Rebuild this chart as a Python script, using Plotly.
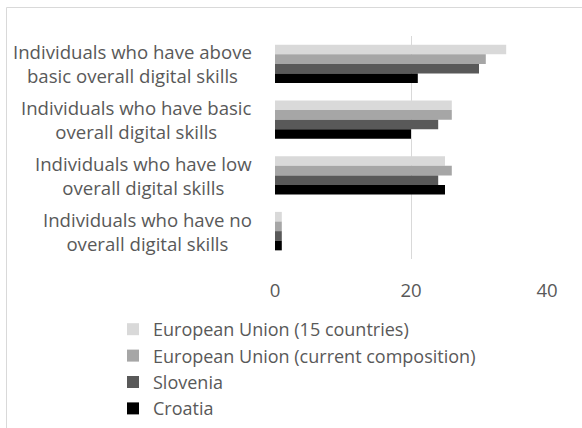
import plotly.graph_objects as go

categories = [
    "Individuals who have above<br>basic overall digital skills",
    "Individuals who have basic<br>overall digital skills",
    "Individuals who have low<br>overall digital skills",
    "Individuals who have no<br>overall digital skills",
]
series_names = [
    "European Union (15 countries)",
    "European Union (current composition)",
    "Slovenia",
    "Croatia",
]
eu15 = [34, 26, 25, 1]
eu_current = [31, 26, 26, 1]
slovenia = [30, 24, 24, 1]
croatia = [21, 20, 25, 1]
series_values = [eu15, eu_current, slovenia, croatia]
colors = ["#d9d9d9", "#a6a6a6", "#595959", "#000000"]
x_ticks = [0, 20, 40]

W, H = 582, 428
L, R, T, B = 275, 35, 36, 169
pw, ph = W - L - R, H - T - B

def px_x(px):
    return (px - L) / pw

def px_y(py):
    return (H - B - py) / ph

FONT = "Open Sans"
TXT = "#595959"
FS = 18.6

fig = go.Figure()
for i, (name, vals, col) in enumerate(zip(series_names, series_values, colors)):
    fig.add_trace(go.Bar(
        y=categories, x=vals, name=name, orientation="h",
        marker=dict(color=col, line=dict(width=0)),
        legendgroup=f"g{i}",
    ))

for c in categories:
    fig.add_annotation(
        x=px_x(254), xref="paper", y=c, yref="y",
        text=c, showarrow=False, xanchor="right", yanchor="middle",
        align="center", font=dict(family=FONT, size=FS, color=TXT),
    )

fig.add_shape(type="line", xref="paper", yref="paper",
              x0=px_x(6.5), x1=px_x(6.5), y0=px_y(7.5), y1=px_y(440),
              line=dict(color="#d9d9d9", width=1))
fig.add_shape(type="line", xref="paper", yref="paper",
              x0=px_x(6.5), x1=px_x(600), y0=px_y(7.5), y1=px_y(7.5),
              line=dict(color="#d9d9d9", width=1))

fig.update_layout(
    width=W, height=H,
    margin=dict(l=L, r=R, t=T, b=B, pad=0, autoexpand=False),
    paper_bgcolor="white", plot_bgcolor="white",
    barmode="group", bargap=0.31, bargroupgap=0,
    font=dict(family=FONT, size=FS, color=TXT),
    xaxis=dict(range=[0, 40], tickvals=x_ticks, showgrid=True,
               gridcolor="#d9d9d9", gridwidth=1, zeroline=False,
               showline=False, ticks="", ticklabelstandoff=18,
               tickfont=dict(size=FS, color=TXT), automargin=False),
    yaxis=dict(autorange="reversed", showticklabels=False, showgrid=False,
               zeroline=False, showline=False, ticks="", automargin=False),
    legend=dict(x=px_x(113), y=px_y(311), xanchor="left", yanchor="top",
                traceorder="normal", tracegroupgap=0,
                font=dict(family=FONT, size=18, color=TXT),
                itemwidth=30, bgcolor="rgba(0,0,0,0)"),
    showlegend=True,
)

fig.write_html("out.html")
